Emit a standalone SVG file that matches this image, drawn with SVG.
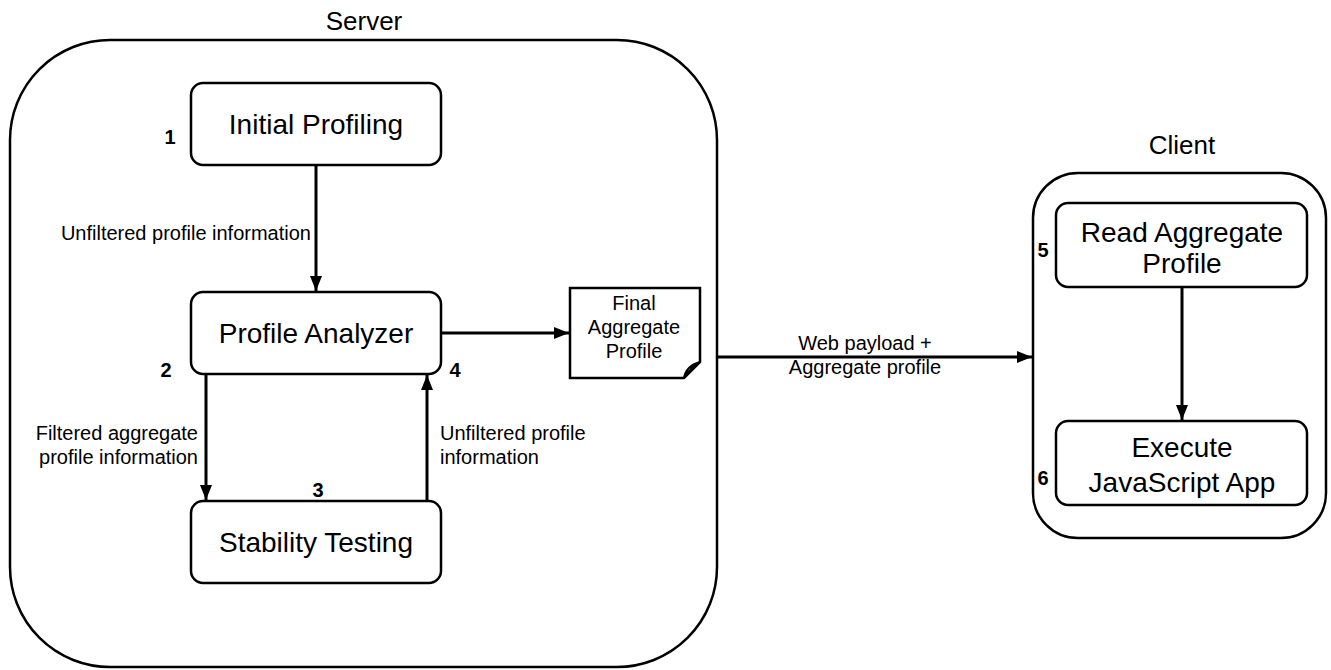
<svg xmlns="http://www.w3.org/2000/svg" width="1331" height="670" viewBox="0 0 1331 670">
<defs>
<marker id="arr" viewBox="0 0 15 12" refX="15" refY="6" markerWidth="15" markerHeight="12" markerUnits="userSpaceOnUse" orient="auto">
<path d="M0,0 L15,6 L0,12 z" fill="#000"/>
</marker>
</defs>
<style>
text{font-family:"Liberation Sans",Arial,sans-serif;fill:#000}
.box{fill:#fff;stroke:#000;stroke-width:2.5}
.cont{fill:none;stroke:#000;stroke-width:2.5}
.big{font-size:28px;text-anchor:middle}
.title{font-size:26px;text-anchor:middle}
.lbl{font-size:20px}
.num{font-size:20px;font-weight:bold;text-anchor:middle}
.doc{font-size:20px;text-anchor:middle}
.conn{fill:none;stroke:#000;stroke-width:3;marker-end:url(#arr)}
</style>
<rect width="1331" height="670" fill="#fff"/>
<g id="server">
<rect class="cont" x="10" y="40" width="707" height="627" rx="100" ry="100"/>
<text class="title" x="364" y="30">Server</text>
</g>
<g id="client">
<rect class="cont" x="1033" y="173" width="293" height="365" rx="45" ry="45"/>
<text class="title" x="1182" y="154">Client</text>
</g>
<g id="connectors">
<line class="conn" x1="316" y1="165" x2="316" y2="291"/>
<line class="conn" x1="441" y1="333" x2="569" y2="333"/>
<line class="conn" x1="206" y1="374" x2="206" y2="500"/>
<line class="conn" x1="427" y1="501" x2="427" y2="375"/>
<line class="conn" x1="717" y1="357" x2="1032" y2="357"/>
<line class="conn" x1="1182" y1="287" x2="1182" y2="420"/>
<text class="lbl" x="311" y="240" text-anchor="end">Unfiltered profile information</text>
<text class="lbl" x="198" y="440" text-anchor="end">Filtered aggregate</text>
<text class="lbl" x="198" y="464" text-anchor="end">profile information</text>
<text class="lbl" x="440" y="440">Unfiltered profile</text>
<text class="lbl" x="440" y="464">information</text>
<text class="lbl" x="865" y="350" text-anchor="middle">Web payload +</text>
<text class="lbl" x="865" y="374" text-anchor="middle">Aggregate profile</text>
</g>
<g id="initial-profiling">
<rect class="box" x="191" y="83" width="250" height="82" rx="12"/>
<text class="big" x="316" y="134">Initial Profiling</text>
<text class="num" x="170" y="144">1</text>
</g>
<g id="profile-analyzer">
<rect class="box" x="191" y="292" width="250" height="82" rx="12"/>
<text class="big" x="316" y="343">Profile Analyzer</text>
<text class="num" x="166" y="377">2</text>
<text class="num" x="455" y="377">4</text>
</g>
<g id="stability-testing">
<rect class="box" x="191" y="501" width="250" height="82" rx="12"/>
<text class="big" x="316" y="552">Stability Testing</text>
<text class="num" x="318" y="497">3</text>
</g>
<g id="final-aggregate-profile">
<path class="box" d="M570,288 H700 V362 L684,378 H570 Z"/>
<path d="M684,378 Q686,366 700,362 Q690,368 684,378 Z" fill="#fff" stroke="#000" stroke-width="2"/>
<text class="doc" x="634" y="310">Final</text>
<text class="doc" x="634" y="334">Aggregate</text>
<text class="doc" x="634" y="358">Profile</text>
</g>
<g id="read-aggregate-profile">
<rect class="box" x="1056" y="203" width="251" height="84" rx="12"/>
<text class="big" x="1182" y="242">Read Aggregate</text>
<text class="big" x="1182" y="273">Profile</text>
<text class="num" x="1043" y="257">5</text>
</g>
<g id="execute-javascript-app">
<rect class="box" x="1056" y="421" width="251" height="84" rx="12"/>
<text class="big" x="1182" y="457">Execute</text>
<text class="big" x="1182" y="492">JavaScript App</text>
<text class="num" x="1043" y="485">6</text>
</g>
</svg>
